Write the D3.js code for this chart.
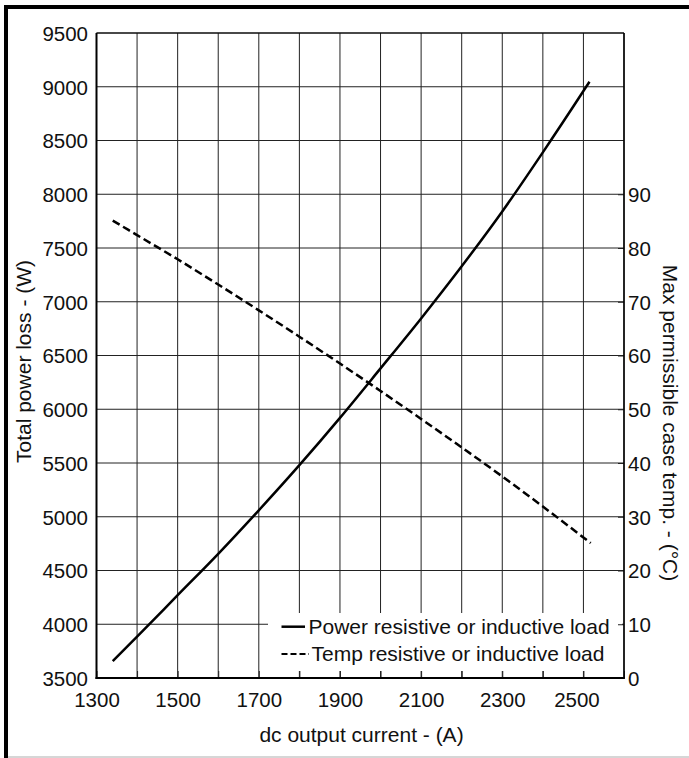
<!DOCTYPE html>
<html>
<head>
<meta charset="utf-8">
<script src="https://cdn.jsdelivr.net/npm/d3@7"></script>
<style>
  html, body { margin: 0; padding: 0; background: #fff; }
  svg { display: block; font-family: "Liberation Sans", Arial, sans-serif; }
</style>
</head>
<body>
<svg id="chart" width="689" height="758"></svg>
<script>
// ---- data ----
const xTicksLabeled = [1300, 1500, 1700, 1900, 2100, 2300, 2500];
const xGrid = [1300,1400,1500,1600,1700,1800,1900,2000,2100,2200,2300,2400,2500,2600];
const yTicksLeft = [3500,4000,4500,5000,5500,6000,6500,7000,7500,8000,8500,9000,9500];
const yTicksRight = [0,10,20,30,40,50,60,70,80,90];

const powerCurrent = [1340,1400,1500,1600,1700,1800,1900,2000,2100,2200,2300,2400,2500,2515];
const powerLoss    = [3658,3885,4270,4655,5060,5480,5920,6380,6845,7330,7840,8390,8960,9047];

const tempCurrent = [1340,1400,1500,1600,1700,1800,1900,2000,2100,2200,2300,2400,2518];
const caseTemp    = [85.1,82.4,77.9,73.2,68.4,63.5,58.5,53.4,48.2,42.9,37.5,31.9,25.1];

const legendLabels = ["Power resistive or inductive load", "Temp resistive or inductive load"];
const xTitle = "dc output current - (A)";
const yLeftTitle = "Total power loss - (W)";
const yRightTitle = "Max permissible case temp. - (°C)";

// ---- layout ----
const L = 96.5, R = 624, T = 33, B = 678;
const svg = d3.select("#chart");

const x = d3.scaleLinear().domain([1300, 2600]).range([L, R]);
const yL = d3.scaleLinear().domain([3500, 9500]).range([B, T]);
const yR = d3.scaleLinear().domain([0, 120]).range([B, T]);

// outer frame
svg.append("line").attr("x1", 8).attr("x2", 689).attr("y1", 757).attr("y2", 757)
  .attr("stroke", "#c8c8c8").attr("stroke-width", 1.5);
svg.append("rect").attr("x", 4).attr("y", 5).attr("width", 685).attr("height", 4).attr("fill", "#000");
svg.append("rect").attr("x", 4).attr("y", 5).attr("width", 4).attr("height", 753).attr("fill", "#000");

// grid
const grid = svg.append("g").attr("stroke", "#222").attr("stroke-width", 1);
grid.selectAll("line.v").data(xGrid).join("line")
  .attr("x1", d => x(d)).attr("x2", d => x(d)).attr("y1", T).attr("y2", B);
grid.selectAll("line.h").data(yTicksLeft).join("line")
  .attr("y1", d => yL(d)).attr("y2", d => yL(d)).attr("x1", L).attr("x2", R);

// curves
const powerPts = powerCurrent.map((c, i) => [c, powerLoss[i]]);
const tempPts = tempCurrent.map((c, i) => [c, caseTemp[i]]);

svg.append("path").datum(powerPts)
  .attr("fill", "none").attr("stroke", "#000").attr("stroke-width", 2.5)
  .attr("d", d3.line().x(d => x(d[0])).y(d => yL(d[1])).curve(d3.curveMonotoneX));

svg.append("path").datum(tempPts)
  .attr("fill", "none").attr("stroke", "#000").attr("stroke-width", 2.5)
  .attr("stroke-dasharray", "8,4")
  .attr("d", d3.line().x(d => x(d[0])).y(d => yR(d[1])).curve(d3.curveMonotoneX));

// legend background
svg.append("rect").attr("x", 268).attr("y", 613).attr("width", 354).attr("height", 58).attr("fill", "#fff");

// axes
const fs = "20.5px";
svg.append("g").attr("transform", `translate(0,${B})`)
  .call(d3.axisBottom(x).tickValues(xGrid).tickSize(-7).tickFormat(""))
  .call(g => g.select(".domain").remove())
  .call(g => g.selectAll("line").attr("stroke", "#222"));

const xAxis = svg.append("g").attr("transform", `translate(0,${B})`)
  .call(d3.axisBottom(x).tickValues(xTicksLabeled).tickSize(0).tickFormat(d3.format("d")));
xAxis.select(".domain").remove();
xAxis.selectAll("text").attr("y", 28.7).attr("dy", 0).attr("font-size", fs)
  .attr("font-family", "Liberation Sans, Arial, sans-serif").attr("fill", "#111")
  .attr("dx", d => d === 2500 ? -7 : 0);

const yAxisL = svg.append("g").attr("transform", `translate(${L},0)`)
  .call(d3.axisLeft(yL).tickValues(yTicksLeft).tickSize(0).tickPadding(8.5).tickFormat(d3.format("d")));
yAxisL.select(".domain").remove();
yAxisL.selectAll("text").attr("font-size", fs).attr("font-family", "Liberation Sans, Arial, sans-serif")
  .attr("fill", "#111").attr("dy", "0.36em");

const yAxisR = svg.append("g").attr("transform", `translate(${R},0)`)
  .call(d3.axisRight(yR).tickValues(yTicksRight).tickSize(-6).tickPadding(4).tickFormat(d3.format("d")));
yAxisR.select(".domain").remove();
yAxisR.selectAll("line").attr("stroke", "#222");
yAxisR.selectAll("text").attr("font-size", fs).attr("font-family", "Liberation Sans, Arial, sans-serif")
  .attr("fill", "#111").attr("dy", "0.36em");

// plot frame lines
svg.append("line").attr("x1", L).attr("x2", R).attr("y1", T).attr("y2", T).attr("stroke", "#000").attr("stroke-width", 1.2);
svg.append("line").attr("x1", R).attr("x2", R).attr("y1", T).attr("y2", B + 1).attr("stroke", "#000").attr("stroke-width", 1.5);
svg.append("line").attr("x1", L).attr("x2", L).attr("y1", T).attr("y2", B + 1).attr("stroke", "#000").attr("stroke-width", 2);
svg.append("line").attr("x1", L - 1).attr("x2", R + 0.75).attr("y1", B).attr("y2", B).attr("stroke", "#000").attr("stroke-width", 2);

// legend
const lg = svg.append("g").attr("font-size", "21px").attr("fill", "#111");
lg.append("line").attr("x1", 281.5).attr("x2", 305).attr("y1", 626.7).attr("y2", 626.7)
  .attr("stroke", "#000").attr("stroke-width", 2.5);
lg.append("text").attr("x", 308.5).attr("y", 633.5).text(legendLabels[0]);
lg.append("line").attr("x1", 281.5).attr("x2", 309).attr("y1", 654).attr("y2", 654)
  .attr("stroke", "#000").attr("stroke-width", 2).attr("stroke-dasharray", "6,3");
lg.append("text").attr("x", 311.5).attr("y", 661).text(legendLabels[1]);

// titles
svg.append("text").attr("x", 361.5).attr("y", 741.7).attr("text-anchor", "middle")
  .attr("font-size", "21px").attr("fill", "#111").text(xTitle);
svg.append("text").attr("transform", "translate(30.5,361.5) rotate(-90)").attr("text-anchor", "middle")
  .attr("font-size", "21px").attr("fill", "#111").text(yLeftTitle);
svg.append("text").attr("transform", "translate(663,423) rotate(90)").attr("text-anchor", "middle")
  .attr("font-size", "21px").attr("fill", "#111").text(yRightTitle);
</script>
</body>
</html>
